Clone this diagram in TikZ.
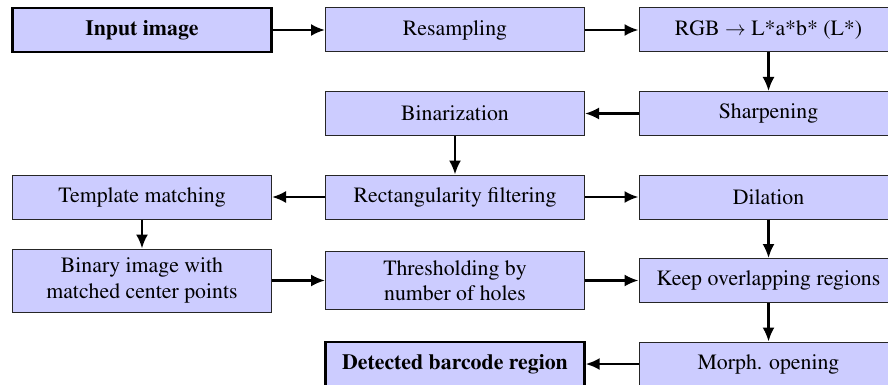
\documentclass[tikz,border=0pt]{standalone}
\usepackage[T1]{fontenc}
\usepackage{times}
\usetikzlibrary{arrows.meta}
\begin{document}
\begin{tikzpicture}[x=1pt,y=-1pt,
  stage/.style={draw=black!85, line width=1pt, fill=blue!20,
    minimum width=259pt, minimum height=44pt, inner xsep=0pt, inner ysep=9pt,
    align=center, font=\fontsize{21.8pt}{25.5pt}\selectfont},
  endpoint/.style={stage, draw=black, line width=2.4pt,
    font=\fontsize{21.8pt}{25.5pt}\selectfont\bfseries},
  flow/.style={-{Latex[length=14pt,width=12pt]}, line width=2.2pt}]
\useasboundingbox (0,0) rectangle (888,385);

% column centres 142 / 455 / 768.5, row centres 30 / 113.5 / 197 / 280.5 / 364
\node[endpoint] (input)  at (142,30)    {Input image};
\node[stage]    (resamp) at (455,30)    {Resampling};
\node[stage]    (rgb)    at (768.5,30)  {RGB $\rightarrow$ L*a*b* (L*)};

\node[stage]    (binar)  at (455,113.5)   {Binarization};
\node[stage]    (sharp)  at (768.5,113.5) {Sharpening};

\node[stage]    (templ)  at (142,197)   {Template matching};
\node[stage]    (rect)   at (455,197)   {Rectangularity filtering};
\node[stage]    (dil)    at (768.5,197) {Dilation};

\node[stage]    (binimg) at (142,280.5)   {Binary image with\\matched center points};
\node[stage]    (thresh) at (455,280.5)   {Thresholding by\\number of holes};
\node[stage]    (keep)   at (768.5,280.5) {Keep overlapping regions};

\node[endpoint] (detect) at (455,364)   {Detected barcode region};
\node[stage]    (morph)  at (768.5,364) {Morph. opening};

\draw[flow] (input) -- (resamp);
\draw[flow] (resamp) -- (rgb);
\draw[flow] (rgb) -- (sharp);
\draw[flow] (sharp) -- (binar);
\draw[flow] (binar) -- (rect);
\draw[flow] (rect) -- (templ);
\draw[flow] (rect) -- (dil);
\draw[flow] (templ) -- (binimg);
\draw[flow] (binimg) -- (thresh);
\draw[flow] (thresh) -- (keep);
\draw[flow] (dil) -- (keep);
\draw[flow] (keep) -- (morph);
\draw[flow] (morph) -- (detect);
\end{tikzpicture}
\end{document}
